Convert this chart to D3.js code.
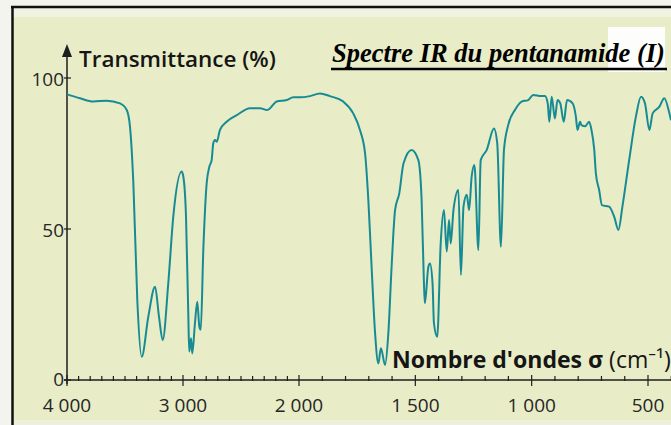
<!DOCTYPE html>
<html>
<head>
<meta charset="utf-8">
<script src="https://cdn.jsdelivr.net/npm/d3@7"></script>
<style>
  html, body { margin: 0; padding: 0; background: #f4f4ee; }
  svg { display: block; }
</style>
</head>
<body>
<div id="chart"></div>
<script>
// IR spectrum of pentanamide
var sigma = [4000, 3888, 3773, 3658, 3543, 3485, 3457, 3428, 3394, 3356,
  3299, 3241, 3207, 3175, 3127, 3084, 3012, 2997, 2974, 2954,
  2946, 2931, 2920, 2897, 2877, 2859, 2847, 2825, 2796, 2773,
  2753, 2739, 2724, 2710, 2681, 2624, 2537, 2422, 2336, 2273,
  2192, 2106, 2049, 1996, 1953, 1910, 1867, 1810, 1767, 1738,
  1716, 1702, 1688, 1673, 1659, 1648, 1630, 1616, 1602, 1587,
  1569, 1551, 1516, 1487, 1473, 1463, 1459, 1444, 1437, 1426,
  1420, 1406, 1391, 1377, 1365, 1355, 1348, 1336, 1315, 1304,
  1293, 1279, 1269, 1258, 1246, 1229, 1219, 1193, 1162, 1148,
  1132, 1119, 1101, 1072, 1043, 1015, 993, 960, 943, 931,
  924, 914, 900, 889, 877, 862, 848, 824, 810, 803,
  792, 786, 770, 753, 743, 731, 724, 710, 698, 667,
  645, 627, 610, 581, 552, 530, 513, 494, 480, 451,
  430, 408, 401];
var transmittance = [94.6, 93.3, 92.2, 92.5, 91.6, 89.4, 83.9, 65.2, 26.5, 7.7,
  21, 30.9, 21, 13.2, 32, 54, 69, 67.3, 54, 21,
  9.4, 13.8, 8.8, 18.8, 25.9, 17.6, 16.6, 43, 65.1, 70.6,
  72.8, 78.4, 79.5, 78.9, 82.8, 85.5, 87.7, 90, 90, 89.4,
  92.2, 92.7, 93.6, 93.6, 94, 94.9, 94, 92.2, 88.3, 82.8,
  75, 59.6, 37.5, 15.5, 5.5, 10.5, 5, 15.5, 37.5, 56.3,
  61.8, 71.7, 76.2, 72.8, 59.6, 32, 25.4, 37.5, 38.6, 32,
  18.8, 14.3, 45.2, 56.3, 42.5, 53, 45.2, 56.3, 62.9, 34.8,
  57.4, 61.3, 56.3, 67.3, 71.2, 43, 72.8, 76.2, 83.3, 78.4,
  44.1, 76.2, 84.4, 89.4, 92.2, 92.7, 94.4, 94, 94, 91.6,
  85.5, 93.8, 86.6, 92.7, 91.6, 85.5, 92.7, 91.6, 87.2, 82.8,
  85.5, 84.4, 84, 85.5, 82.8, 76.2, 68.4, 62.9, 57.9, 57.4,
  54, 49.7, 57.4, 72.8, 87.2, 93.8, 91.6, 82.8, 88.3, 90.5,
  93.3, 88.3, 86];

var xTickValues = [4000, 3000, 2000, 1500, 1000, 500];
var xTickLabels = ["4 000", "3 000", "2 000", "1 500", "1 000", "500"];
var yTickValues = [0, 50, 100];

var width = 671, height = 425;
var svg = d3.select("#chart").append("svg")
  .attr("width", width)
  .attr("height", height);

// page / frame
svg.append("rect").attr("x", 12).attr("y", 7).attr("width", width - 12).attr("height", height - 7)
  .attr("fill", "#e8ecc7");
svg.append("rect").attr("x", 13).attr("y", 8).attr("width", width - 13).attr("height", 9)
  .attr("fill", "#f1f3e2");
svg.append("rect").attr("x", 13).attr("y", 420).attr("width", width - 13).attr("height", 5)
  .attr("fill", "#eef0dc");
svg.append("line").attr("x1", 11).attr("x2", width).attr("y1", 7).attr("y2", 7)
  .attr("stroke", "#111").attr("stroke-width", 2.5);
svg.append("line").attr("x1", 12.5).attr("x2", 12.5).attr("y1", 6).attr("y2", height)
  .attr("stroke", "#111").attr("stroke-width", 2.5);

// scales: the wavenumber axis is compressed above 2000 cm-1
var x = d3.scaleLinear().domain([4000, 2000, 500]).range([67, 299, 648]);
var y = d3.scaleLinear().domain([0, 100]).range([380, 78]);

var axisColor = "#1e1e1e";
var sans = "'Open Sans', 'Noto Sans', sans-serif";

// x axis line + ticks
svg.append("line").attr("x1", 64).attr("x2", width).attr("y1", y(0)).attr("y2", y(0))
  .attr("stroke", axisColor).attr("stroke-width", 1.3);
var minor = d3.range(4000, 399, -100);
svg.selectAll(".xminor").data(minor).enter().append("line")
  .attr("class", "xminor")
  .attr("x1", function(d) { return x(d); })
  .attr("x2", function(d) { return x(d); })
  .attr("y1", function(d) { return y(0) - (xTickValues.indexOf(d) >= 0 ? 5 : 4); })
  .attr("y2", function(d) { return y(0) + (xTickValues.indexOf(d) >= 0 ? 6 : 1); })
  .attr("stroke", axisColor).attr("stroke-width", 1.2);
svg.selectAll(".xlabel").data(xTickValues).enter().append("text")
  .attr("class", "xlabel")
  .attr("x", function(d) { return x(d); })
  .attr("y", 412)
  .attr("text-anchor", "middle")
  .attr("font-family", sans).attr("font-size", 19).attr("fill", "#262626")
  .text(function(d, i) { return xTickLabels[i]; });

// y axis with arrow
svg.append("line").attr("x1", x(4000)).attr("x2", x(4000)).attr("y1", y(0) + 4).attr("y2", 54)
  .attr("stroke", axisColor).attr("stroke-width", 1.5);
svg.append("path")
  .attr("d", "M" + x(4000) + ",44 L" + (x(4000) - 5) + ",57 L" + (x(4000) + 5) + ",57 Z")
  .attr("fill", axisColor);
svg.selectAll(".ytick").data(yTickValues).enter().append("line")
  .attr("class", "ytick")
  .attr("x1", x(4000) - 3).attr("x2", x(4000) + 4)
  .attr("y1", function(d) { return y(d); })
  .attr("y2", function(d) { return y(d); })
  .attr("stroke", axisColor).attr("stroke-width", 1.2);
svg.selectAll(".ylabel").data(yTickValues).enter().append("text")
  .attr("class", "ylabel")
  .attr("x", 64)
  .attr("y", function(d) { return y(d) + (d === 0 ? 6 : 8); })
  .attr("text-anchor", "end")
  .attr("font-family", sans).attr("font-size", 19).attr("fill", "#262626")
  .text(function(d) { return d; });

// shrink/grow a text element to a target width
function fitText(t, target) {
  var size = +t.attr("font-size");
  var w = t.node().getComputedTextLength();
  t.attr("font-size", size * target / w);
}

var yTitle = svg.append("text")
  .attr("x", 79).attr("y", 67)
  .attr("font-family", sans).attr("font-weight", 600).attr("font-size", 20)
  .attr("fill", "#151515")
  .text("Transmittance (%)");
fitText(yTitle, 197);

var xTitle = svg.append("text")
  .attr("x", 392).attr("y", 368)
  .attr("font-family", sans).attr("font-size", 18)
  .attr("fill", "#151515");
xTitle.append("tspan").attr("font-weight", 700).text("Nombre d'ondes \u03c3");
xTitle.append("tspan").attr("font-weight", 400).text(" (cm\u207b\u00b9)");
fitText(xTitle, 279);

// title with white patch
svg.append("rect").attr("x", 608).attr("y", 27).attr("width", 57).attr("height", 45).attr("fill", "#fdfdfb");
var title = svg.append("text")
  .attr("x", 332).attr("y", 62)
  .attr("font-family", "'Liberation Serif', 'Times New Roman', serif")
  .attr("font-style", "italic").attr("font-weight", 700).attr("font-size", 22)
  .attr("fill", "#000")
  .text("Spectre IR du pentanamide (I)");
fitText(title, 333);
svg.append("line").attr("x1", 331).attr("x2", 667).attr("y1", 69).attr("y2", 69)
  .attr("stroke", "#000").attr("stroke-width", 2.5);

// spectrum
var points = sigma.map(function(s, i) { return { s: s, t: transmittance[i] }; });
var line = d3.line()
  .x(function(d) { return x(d.s); })
  .y(function(d) { return y(d.t); })
  .curve(d3.curveMonotoneX);
svg.append("path")
  .datum(points)
  .attr("d", line)
  .attr("fill", "none")
  .attr("stroke", "#178b94")
  .attr("stroke-width", 2)
  .attr("stroke-linejoin", "round");
</script>
</body>
</html>
